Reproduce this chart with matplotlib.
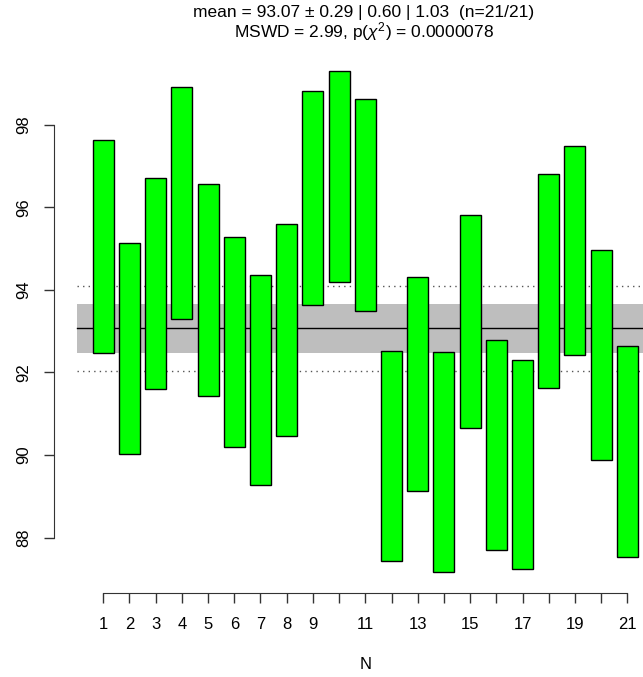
import matplotlib
matplotlib.use("Agg")
import matplotlib.pyplot as plt

plt.rcParams["font.family"] = ["Liberation Sans", "DejaVu Sans"]
plt.rcParams["mathtext.fontset"] = "custom"
plt.rcParams["mathtext.rm"] = "Liberation Sans"
plt.rcParams["mathtext.it"] = "Liberation Sans:italic"

# aliquot number and the upper / lower limits of each error box
n = list(range(1, 22))
upper = [97.62, 95.13, 96.72, 98.92, 96.56, 95.29, 94.37, 95.60, 98.82, 99.29, 98.63,
         92.53, 94.30, 92.50, 95.81, 92.79, 92.30, 96.81, 97.49, 94.97, 92.63]
lower = [92.46, 90.02, 91.59, 93.29, 91.44, 90.20, 89.27, 90.47, 93.63, 94.18, 93.49,
         87.44, 89.14, 87.17, 90.66, 87.69, 87.24, 91.62, 92.42, 89.87, 87.53]

mean = 93.07
ci_band = 0.60
ci_disp = 1.03
yticks = [88, 90, 92, 94, 96, 98]
xlabels = [str(i) if (i <= 9 or i % 2 == 1) else "" for i in n]

title1 = "mean = 93.07 \u00b1 0.29 | 0.60 | 1.03  (n=21/21)"
title2 = r"MSWD = 2.99, p($\chi^2$) = 0.0000078"

fig = plt.figure(figsize=(6.43, 6.77), dpi=100)
W, H = 643, 677
left_px, right_px = 54.0, 676.6
top_px, bot_px = 50.8, 592.7
ax = fig.add_axes([left_px / W, 1 - bot_px / H, (right_px - left_px) / W, (bot_px - top_px) / H])
ax.set_xlim(-0.88, 22.88)
ax.set_ylim(86.668, 99.789)

# confidence band, mean line and overdispersion limits
ax.fill_between([0, 22], mean - ci_band, mean + ci_band, color="#BEBEBE", lw=0, zorder=1)
ax.plot([0, 22], [mean, mean], color="black", lw=1, zorder=2)
for y in (mean - ci_disp, mean + ci_disp):
    ax.plot([0, 22], [y, y], color="#555555", lw=1, ls=(0, (1, 3)), zorder=2)

# error boxes
for x, lo, hi in zip(n, lower, upper):
    ax.add_patch(plt.Rectangle((x - 0.4, lo), 0.8, hi - lo, facecolor="#00FF00",
                               edgecolor="black", lw=1, zorder=3))

for s in ("top", "right"):
    ax.spines[s].set_visible(False)
ax.spines["left"].set_bounds(88, 98)
ax.spines["bottom"].set_bounds(1, 21)
ax.spines["left"].set_color("#333333")
ax.spines["bottom"].set_color("#333333")
ax.set_xticks(n)
ax.set_xticklabels(xlabels)
ax.set_yticks(yticks)
ax.set_yticklabels([str(v) for v in yticks], rotation=90, va="center")
ax.tick_params(length=7.2, width=1, labelsize=12, color="#333333")
ax.tick_params(axis="x", pad=10.5)
ax.tick_params(axis="y", pad=9.5)
ax.set_xlabel("N", fontsize=12, labelpad=18)

fig.text(364 / W, 1 - 17.5 / H, title1, ha="center", va="baseline", fontsize=12.5)
fig.text(364 / W, 1 - 37 / H, title2, ha="center", va="baseline", fontsize=12.5)

fig.savefig("out.png", dpi=100)
